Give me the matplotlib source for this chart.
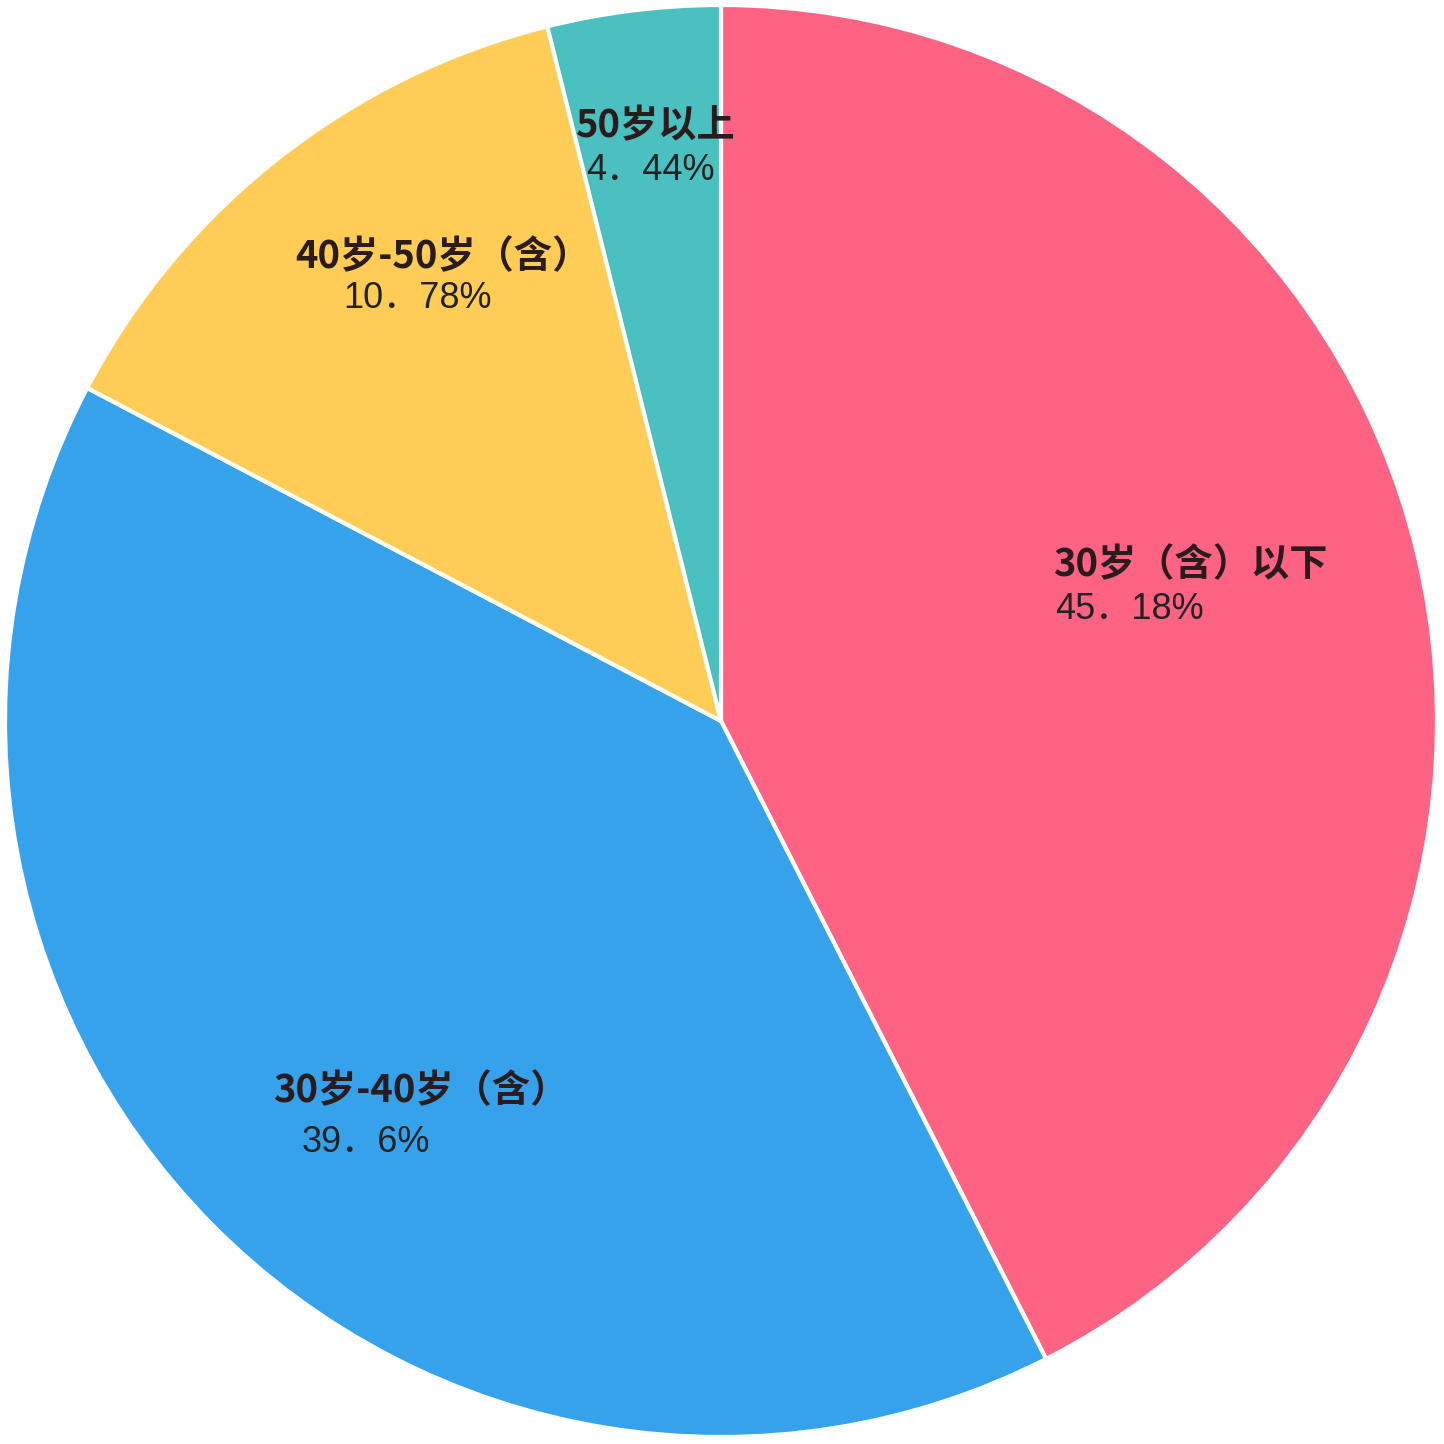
import matplotlib.pyplot as plt

plt.rcParams['font.family'] = ['Noto Sans CJK SC', 'DejaVu Sans']

# data
labels = ['30岁（含）以下', '30岁-40岁（含）', '40岁-50岁（含）', '50岁以上']
# wedge sizes as drawn in the picture (measured from the slice angles)
wedge_values = [42.5, 40.2, 13.4, 3.9]
# percentages printed on the labels
pct_text = ['45．18%', '39．6%', '10．78%', '4．44%']
colors = ['#FF6384', '#36A2EB', '#FFCD56', '#4BC0C0']

# label placement in pixels of the 1444 image (name line, percent line, alignment)
name_px = [(1053, 565), (421, 1091), (443, 257), (655, 126)]
pct_px = [(1055, 610), (366, 1142), (418, 299), (650, 171)]
align = ['left', 'center', 'center', 'center']

cx, cy, R = 721, 721, 716


def to_data(p):
    return (p[0] - cx) / R, (cy - p[1]) / R


fig = plt.figure(figsize=(14.44, 14.44), dpi=100)
ax = fig.add_axes([0, 0, 1, 1])
ax.pie(wedge_values, colors=colors, startangle=90, counterclock=False, radius=1,
       center=(0, 0), wedgeprops=dict(edgecolor='white', linewidth=3))

for i in range(len(labels)):
    x, y = to_data(name_px[i])
    ha = align[i]
    ax.text(x, y, labels[i], ha=ha, va='center', fontsize=27.5,
            fontweight='bold', color='#2a1c1c')
    x2, y2 = to_data(pct_px[i])
    ax.text(x2, y2, pct_text[i], ha=ha, va='center', fontsize=26,
            color='#222222', family=['Liberation Sans', 'Noto Sans CJK SC'])

ax.set_xlim(-cx / R, (1444 - cx) / R)
ax.set_ylim(-(1444 - cy) / R, cy / R)
ax.set_aspect('equal')
ax.axis('off')

fig.savefig('out.png', dpi=100, facecolor='white')
